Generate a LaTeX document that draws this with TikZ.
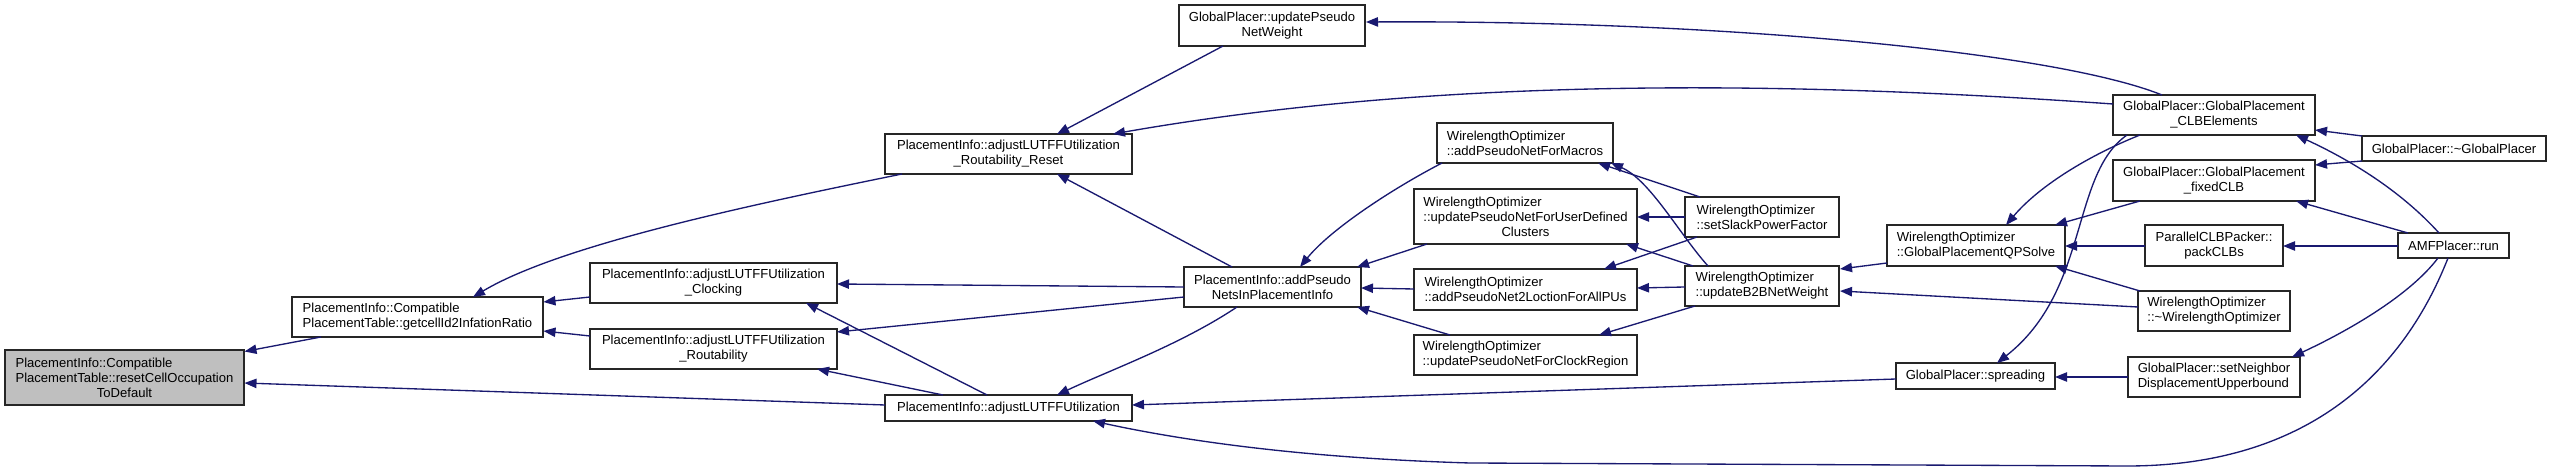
\documentclass[tikz,border=0pt]{standalone}
\usepackage{fontspec}
\setmainfont{Liberation Sans}
\usetikzlibrary{arrows.meta,calc}
\definecolor{mblue}{HTML}{191970}
\definecolor{agray}{HTML}{BFBFBF}
\newcommand{\lfl}[2]{\rlap{#1}\phantom{#2}}
\begin{document}
\begin{tikzpicture}[x=0.75pt,y=-0.75pt,
  nbox/.style={draw=black!85,line width=1pt,fill=white,inner sep=0pt,align=center,font=\fontsize{9.8}{11.25}\selectfont},
  call/.style={draw=mblue,line width=1pt,-{Triangle[length=9pt,width=7pt]}}]
\fill[white] (0,0) rectangle (2551,473);
\useasboundingbox (0,0) rectangle (2551,473);
% nodes
\node[nbox,fill=agray,minimum width=179.25pt,minimum height=41.25pt] (A) at (124.5,377.5)
 {\lfl{PlacementInfo::Compatible}{PlacementTable::resetCellOccupation}\\PlacementTable::resetCellOccupation\\ToDefault};
\node[nbox,align=left,minimum width=188.25pt,minimum height=30pt] (B) at (417.5,317)
 {PlacementInfo::Compatible\\PlacementTable::getcellId2InfationRatio};
\node[nbox,minimum width=185.25pt,minimum height=30pt] (Clk) at (713.5,283)
 {PlacementInfo::adjustLUTFFUtilization\\\_Clocking};
\node[nbox,minimum width=185.25pt,minimum height=30pt] (Rout) at (713.5,349)
 {PlacementInfo::adjustLUTFFUtilization\\\_Routability};
\node[nbox,minimum width=185.25pt,minimum height=30pt] (RR) at (1008.5,154)
 {PlacementInfo::adjustLUTFFUtilization\\\_Routability\_Reset};
\node[nbox,minimum width=185.25pt,minimum height=19.5pt] (ALU) at (1008.5,408)
 {PlacementInfo::adjustLUTFFUtilization};
\node[nbox,minimum width=139.5pt,minimum height=30.75pt] (UPNW) at (1272,25.5)
 {GlobalPlacer::updatePseudo\\NetWeight};
\node[nbox,minimum width=132.75pt,minimum height=30pt] (APN) at (1272.5,287)
 {PlacementInfo::addPseudo\\NetsInPlacementInfo};
\node[nbox,align=left,minimum width=132pt,minimum height=30pt] (AddMac) at (1525,143)
 {WirelengthOptimizer\\::addPseudoNetForMacros};
\node[nbox,minimum width=167.25pt,minimum height=41.25pt] (UDC) at (1525.5,216.5)
 {\lfl{WirelengthOptimizer}{::updatePseudoNetForUserDefined}\\::updatePseudoNetForUserDefined\\Clusters};
\node[nbox,align=left,minimum width=167.25pt,minimum height=30.75pt] (AllPUs) at (1525.5,289.5)
 {WirelengthOptimizer\\::addPseudoNet2LoctionForAllPUs};
\node[nbox,align=left,minimum width=167.25pt,minimum height=30pt] (ClkReg) at (1525.5,355)
 {WirelengthOptimizer\\::updatePseudoNetForClockRegion};
\node[nbox,align=left,minimum width=115.5pt,minimum height=30pt] (Slack) at (1762,217)
 {WirelengthOptimizer\\::setSlackPowerFactor};
\node[nbox,align=left,minimum width=115.5pt,minimum height=30pt] (B2B) at (1762,286)
 {WirelengthOptimizer\\::updateB2BNetWeight};
\node[nbox,align=left,minimum width=133.5pt,minimum height=30.75pt] (QP) at (1976,245.5)
 {WirelengthOptimizer\\::GlobalPlacementQPSolve};
\node[nbox,minimum width=119.25pt,minimum height=19.5pt] (Spread) at (1975.5,376)
 {GlobalPlacer::spreading};
\node[nbox,minimum width=151.5pt,minimum height=30pt] (CLBE) at (2214,115)
 {GlobalPlacer::GlobalPlacement\\\_CLBElements};
\node[nbox,minimum width=151.5pt,minimum height=30.75pt] (Fixed) at (2214,180.5)
 {GlobalPlacer::GlobalPlacement\\\_fixedCLB};
\node[nbox,minimum width=103.5pt,minimum height=30.75pt] (Pack) at (2214,245.5)
 {ParallelCLBPacker::\\packCLBs};
\node[nbox,align=left,minimum width=114pt,minimum height=30pt] (NWO) at (2214,311)
 {WirelengthOptimizer\\::\textasciitilde WirelengthOptimizer};
\node[nbox,align=left,minimum width=129pt,minimum height=30pt] (SetN) at (2214,377)
 {GlobalPlacer::setNeighbor\\DisplacementUpperbound};
\node[nbox,minimum width=138pt,minimum height=18.75pt] (NGP) at (2454,148.5)
 {GlobalPlacer::\textasciitilde GlobalPlacer};
\node[nbox,minimum width=83.25pt,minimum height=18.75pt] (AMF) at (2453.5,245.5)
 {AMFPlacer::run};
% edges
\draw[call] ($(B)+(-96.5,20)$) -- ($(A)+(120,-26)$);
\draw[call] ($(ALU)+(-123.5,-3)$) -- ($(A)+(120,5.5)$);
\draw[call] ($(RR)+(-106.5,20)$) .. controls ($(RR)+(-258.5,51)$) and ($(B)+(142.5,-72)$) .. ($(B)+(55.5,-20)$);
\draw[call] ($(Clk)+(-123.5,14)$) -- ($(B)+(126,-15)$);
\draw[call] ($(Rout)+(-123.5,-13)$) -- ($(B)+(126,14)$);
\draw[call] ($(UPNW)+(-49,20.5)$) -- ($(RR)+(48.5,-20)$);
\draw[call] ($(CLBE)+(-52,-20)$) .. controls ($(CLBE)+(-164,-65)$) and ($(UPNW)+(428,-5.5)$) .. ($(UPNW)+(94,-3.5)$);
\draw[call] ($(CLBE)+(-101,-11)$) .. controls ($(CLBE)+(-414,-33)$) and ($(RR)+(441.5,-79)$) .. ($(RR)+(104.5,-20)$);
\draw[call] ($(APN)+(-40.5,-20)$) -- ($(RR)+(48.5,20)$);
\draw[call] ($(APN)+(-88.5,0)$) -- ($(Clk)+(123.5,1)$);
\draw[call] ($(APN)+(-88.5,10)$) -- ($(Rout)+(123.5,-17)$);
\draw[call] ($(APN)+(-35.5,20)$) .. controls ($(APN)+(-92.5,58)$) and ($(ALU)+(101.5,-38)$) .. ($(ALU)+(48.5,-13)$);
\draw[call] ($(ALU)+(-21.5,-13)$) -- ($(Clk)+(92.5,20)$);
\draw[call] ($(ALU)+(-65.5,-13)$) -- ($(Rout)+(103.5,20)$);
\draw[call] ($(AddMac)+(-83,20)$) .. controls ($(AddMac)+(-135,47)$) and ($(APN)+(57.5,-57)$) .. ($(APN)+(27.5,-20)$);
\draw[call] ($(UDC)+(-98.5,27.5)$) -- ($(APN)+(84.5,-20)$);
\draw[call] ($(AllPUs)+(-111.5,-0.5)$) -- ($(APN)+(88.5,1)$);
\draw[call] ($(ClkReg)+(-75.5,-20)$) -- ($(APN)+(84.5,20)$);
\draw[call] ($(Slack)+(-77,0)$) -- ($(UDC)+(111.5,0.5)$);
\draw[call] ($(Slack)+(-65,20)$) -- ($(AllPUs)+(78.5,-20.5)$);
\draw[call] ($(Slack)+(-62,-20)$) -- ($(AddMac)+(73,20)$);
\draw[call] ($(B2B)+(-54,-20)$) .. controls ($(B2B)+(-82,-51)$) and ($(AddMac)+(125,37)$) .. ($(AddMac)+(86,20)$);
\draw[call] ($(B2B)+(-69,-20)$) -- ($(UDC)+(100.5,27.5)$);
\draw[call] ($(B2B)+(-77,1)$) -- ($(AllPUs)+(111.5,-1.5)$);
\draw[call] ($(B2B)+(-67,20)$) -- ($(ClkReg)+(73.5,-20)$);
\draw[call] ($(QP)+(-89,17.5)$) -- ($(B2B)+(78,-17)$);
\draw[call] ($(NWO)+(-76,-4)$) -- ($(B2B)+(78,5)$);
\draw[call] ($(NWO)+(-74,-20)$) -- ($(QP)+(79,20.5)$);
\draw[call] ($(Pack)+(-69,0.5)$) -- ($(QP)+(89,0.5)$);
\draw[call] ($(CLBE)+(-74,20)$) .. controls ($(CLBE)+(-124,40)$) and ($(QP)+(64,-60.5)$) .. ($(QP)+(30,-20.5)$);
\draw[call] ($(Fixed)+(-74,20.5)$) -- ($(QP)+(79,-20.5)$);
\draw[call] ($(CLBE)+(-87,20)$) .. controls ($(CLBE)+(-144,60)$) and ($(Spread)+(114.5,-86)$) .. ($(Spread)+(21.5,-13)$);
\draw[call] ($(SetN)+(-86,0)$) -- ($(Spread)+(79.5,1)$);
\draw[call] ($(Spread)+(-79.5,3)$) -- ($(ALU)+(123.5,-3)$);
\draw[call] ($(AMF)+(-5.5,12.5)$) .. controls ($(AMF)+(-53.5,134.5)$) and ($(AMF)+(-153.5,220.5)$) .. ($(AMF)+(-326.5,220.5)$)
  -- ($(ALU)+(461.5,55)$) .. controls ($(ALU)+(291.5,50)$) and ($(ALU)+(171.5,32)$) .. ($(ALU)+(84.5,13)$);
\draw[call] ($(AMF)+(-14.5,-12.5)$) .. controls ($(AMF)+(-53.5,-55.5)$) and ($(CLBE)+(136,45)$) .. ($(CLBE)+(82,20)$);
\draw[call] ($(AMF)+(-45.5,-12.5)$) -- ($(Fixed)+(82,20.5)$);
\draw[call] ($(AMF)+(-55.5,0.5)$) -- ($(Pack)+(69,0.5)$);
\draw[call] ($(AMF)+(-15.5,12.5)$) .. controls ($(AMF)+(-43.5,49.5)$) and ($(SetN)+(136,-47)$) .. ($(SetN)+(78,-20)$);
\draw[call] ($(NGP)+(-92,-12.5)$) -- ($(CLBE)+(101,15)$);
\draw[call] ($(NGP)+(-92,12.5)$) -- ($(Fixed)+(101,-15.5)$);
\end{tikzpicture}
\end{document}
